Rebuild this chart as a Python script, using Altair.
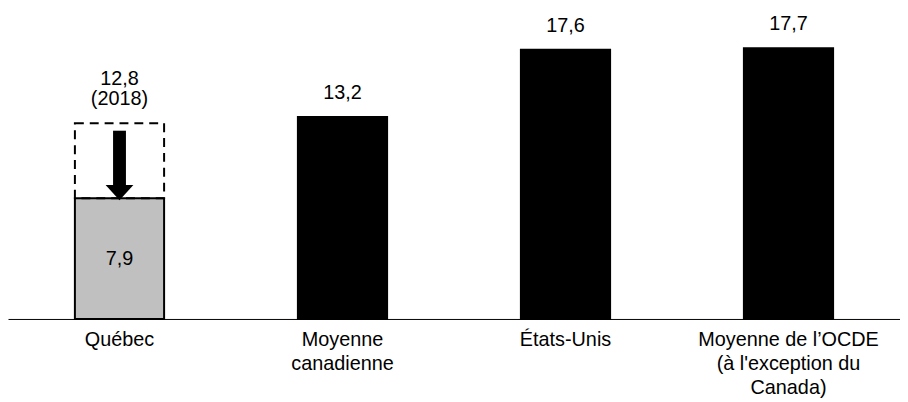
import altair as alt
import pandas as pd

categories = ["Québec", "Moyenne|canadienne", "États-Unis",
              "Moyenne de l’OCDE|(à l'exception du|Canada)"]
values = [7.9, 13.2, 17.6, 17.7]
bar_colors = ["#c0c0c0", "#000000", "#000000", "#000000"]
top_values = [12.8, 13.2, 17.6, 17.7]
top_labels = ["12,8", "13,2", "17,6", "17,7"]
year_label = ["(2018)"]
inner_label = ["7,9"]
quebec_prev = [12.8]
arrow_shaft = [12.31, 8.75]
arrow_head = [8.26]

df = pd.DataFrame({"cat": categories, "value": values, "color": bar_colors,
                   "top": top_values, "label": top_labels})
q = pd.DataFrame({"cat": [categories[0]], "value": [values[0]], "prev": quebec_prev,
                  "inner": inner_label, "year": year_label,
                  "s1": [arrow_shaft[0]], "s2": [arrow_shaft[1]], "head": arrow_head})

FONT = "Liberation Sans"
FS = 20

xenc = alt.X("cat:N", sort=categories,
             scale=alt.Scale(paddingInner=0.6, paddingOuter=0.3),
             axis=alt.Axis(title=None, labelAngle=0, ticks=False, domainColor="black",
                           domainWidth=1, labelFont=FONT, labelFontSize=FS,
                           labelColor="black", labelPadding=11, labelLineHeight=24,
                           labelLimit=400,
                           labelExpr="split(datum.label, '|')", labelBaseline="top"))
yscale = alt.Scale(domain=[0, 20.22], nice=False, zero=True)
xs = alt.X("cat:N", sort=categories)

base = alt.Chart(df)
bars = base.mark_bar(stroke="black", strokeWidth=2).encode(
    x=xenc,
    y=alt.Y("value:Q", scale=yscale, axis=None),
    fill=alt.Fill("color:N", scale=None),
)
top_text = base.mark_text(font=FONT, fontSize=FS, baseline="bottom", dy=-14,
                          color="black").encode(
    x=xs, y=alt.Y("top:Q", scale=yscale), text="label:N"
).transform_filter(alt.datum.cat != categories[0])

qb = alt.Chart(q)
q_text = qb.mark_text(font=FONT, fontSize=FS, baseline="bottom", dy=-35,
                      color="black").encode(
    x=xs, y=alt.Y("prev:Q", scale=yscale), text="prev_label:N"
).transform_calculate(prev_label="replace(format(datum.prev, '.1f'), '.', ',')")
year_text = qb.mark_text(font=FONT, fontSize=FS, baseline="bottom", dy=-14,
                         color="black").encode(
    x=xs, y=alt.Y("prev:Q", scale=yscale), text="year:N")
dashed = qb.mark_bar(fillOpacity=0, stroke="black", strokeWidth=2,
                     strokeDash=[9, 6]).encode(
    x=xs, y=alt.Y("value:Q", scale=yscale), y2="prev:Q")
shaft = qb.mark_bar(size=13, color="black").encode(
    x=xs, y=alt.Y("s1:Q", scale=yscale), y2="s2:Q")
head = qb.mark_point(shape="M-1,-0.55 L1,-0.55 L0,0.55 Z", size=784, filled=True,
                     color="black", opacity=1).encode(
    x=xs, y=alt.Y("head:Q", scale=yscale))
inner = qb.mark_text(font=FONT, fontSize=FS, baseline="middle", color="black").encode(
    x=xs, y=alt.Y("mid:Q", scale=yscale), text="inner:N"
).transform_calculate(mid="datum.value / 2")

chart = alt.layer(bars, dashed, shaft, head, inner, top_text, q_text, year_text).properties(
    width=900, height=312, padding=0
).configure_view(stroke=None)

chart.save("out.html", embed_options={"renderer": "svg", "actions": False})
